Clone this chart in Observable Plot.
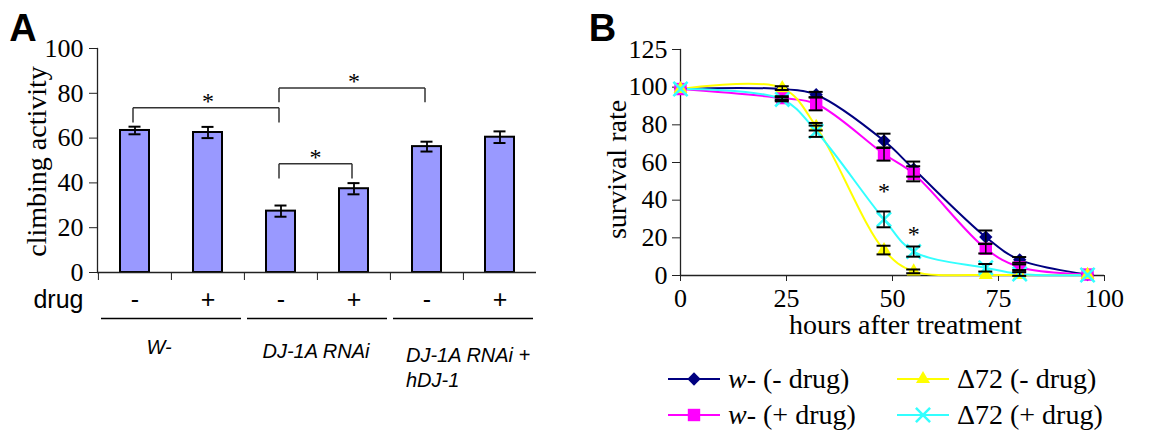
<!DOCTYPE html>
<html><head><meta charset="utf-8">
<script src="https://cdn.jsdelivr.net/npm/d3@7"></script>
<script src="https://cdn.jsdelivr.net/npm/@observablehq/plot@0.6"></script>
<style>
body{margin:0;background:#fff;}
#wrap{position:relative;width:1159px;height:448px;overflow:hidden;background:#fff;}
#panelA{position:absolute;left:0;top:0;}
#panelB{position:absolute;left:580px;top:0;}
.leg{position:absolute;display:flex;align-items:center;height:32px;font-family:"Liberation Serif",serif;font-size:28px;color:#000;white-space:nowrap;}
.leg svg{display:block;margin-right:8px;}
</style></head>
<body><div id="wrap"><div id="panelA"></div><div id="panelB"></div><div id="legend"></div></div>
<script>
// ---------- Panel A data ----------
const barKeys = ["W- -", "W- +", "RNAi -", "RNAi +", "rescue -", "rescue +"];
const barDrug = ["-", "+", "-", "+", "-", "+"];
const climbing = [63.4, 62.5, 27.4, 37.4, 56.2, 60.4];
const climbingErr = [1.7, 2.5, 2.5, 2.5, 2.2, 2.6];
const yTicksA = [0, 20, 40, 60, 80, 100];
const groupLabels = ["W-", "DJ-1A RNAi", "DJ-1A RNAi +\nhDJ-1"];
const groupFirst = ["W- -", "RNAi -", "rescue -"];
const groupLast = ["W- +", "RNAi +", "rescue +"];
const bracketFrom = ["W- -", "RNAi -", "RNAi -"];
const bracketTo = ["RNAi -", "rescue -", "RNAi +"];
const bracketTop = [73.5, 82.4, 48.5];
const bracketFoot = [67, 76, 42];

// ---------- Panel B data ----------
const hoursB = [0, 24, 32, 48, 55, 72, 80, 96];
const seriesNames = ["w- (- drug)", "w- (+ drug)", "Δ72 (- drug)", "Δ72 (+ drug)"];
const wMinus = [99.2, 99, 96, 71.5, 56.5, 20.4, 8.3, 0.5];
const wPlus = [99, 94.2, 91.2, 64.5, 54, 14.2, 4.4, 0.5];
const d72Minus = [99, 99.5, 79, 13.5, 2.2, 0.3, 0.3, 0.3];
const d72Plus = [99, 93.5, 76.6, 29.8, 12.7, 4.1, 0.8, 0.3];
const wMinusErr = [0, 0, 1.5, 3.8, 4, 3.5, 1.5, 0];
const wPlusErr = [0, 1, 3.5, 3.5, 4, 2.5, 1.5, 0];
const d72MinusErr = [0, 1, 2, 2.3, 1, 0, 0, 0];
const d72PlusErr = [0, 1, 3, 4.2, 2.7, 2, 1, 0];
const yTicksB = [0, 20, 40, 60, 80, 100, 120];
const yTickLabelsB = ["0", "20", "40", "60", "80", "100", "125"];
const xTicksB = [0, 25, 50, 75, 100];
const starHours = [48, 55];
const starRate = [44.5, 22];

// ---------- styles ----------
const seriesColors = ["#000080", "#ff00ff", "#ffff00", "#33ffff"];
const seriesSymbols = ["diamond2", "square", "triangle", "times"];
const seriesR = [6, 7, 5.2, 6.5];
const seriesFilled = [true, true, true, false];
const serif = "Liberation Serif, Times New Roman, serif";
const sans = "Liberation Sans, Arial, sans-serif";

// ---------- Panel A ----------
const rowsA = barKeys.map((k, i) => ({key: k, drug: barDrug[i], value: climbing[i], err: climbingErr[i]}));
const groupsA = groupLabels.map((g, i) => ({label: g, first: groupFirst[i], last: groupLast[i]}));
const brackets = bracketFrom.map((f, i) => ({from: f, to: bracketTo[i], top: bracketTop[i], foot: bracketFoot[i]}));
const legs = brackets.flatMap(b => [{x: b.from, top: b.top, foot: b.foot}, {x: b.to, top: b.top, foot: b.foot}]);

const WA = 580, mlA = 97, mrA = 44;
const bwA = (WA - mlA - mrA) / barKeys.length;
const mid = {textAnchor: "middle", lineAnchor: "middle"};

const chartA = Plot.plot({
  width: WA, height: 448,
  marginLeft: mlA, marginRight: mrA, marginTop: 48, marginBottom: 176,
  style: {fontFamily: serif, fontSize: "26px", background: "transparent", color: "#000"},
  x: {type: "band", domain: barKeys, padding: 0, axis: null},
  y: {domain: [0, 100], axis: null},
  marks: [
    Plot.barY(rowsA, {x: "key", y: "value", fill: "#9999ff", stroke: "#000", strokeWidth: 2, insetLeft: 22, insetRight: 22}),
    Plot.ruleX(rowsA, {x: "key", y1: d => d.value - d.err, y2: d => d.value + d.err, stroke: "#000", strokeWidth: 1.8}),
    Plot.tickY(rowsA, {x: "key", y: d => d.value + d.err, insetLeft: 30.5, insetRight: 30.5, stroke: "#000", strokeWidth: 2}),
    Plot.tickY(rowsA, {x: "key", y: d => d.value - d.err, insetLeft: 30.5, insetRight: 30.5, stroke: "#000", strokeWidth: 2}),
    // brackets
    Plot.link(brackets, {x1: "from", x2: "to", y1: "top", y2: "top", stroke: "#333", strokeWidth: 1.5, dx: -2}),
    Plot.link(legs, {x1: "x", x2: "x", y1: "top", y2: "foot", stroke: "#333", strokeWidth: 1.5, dx: -2}),
    Plot.text(["W- +", "RNAi +"], {x: d => d, y: (d, i) => bracketTop[i], text: () => "*", dy: -7, fontSize: 24}),
    Plot.text(["RNAi -"], {x: d => d, y: () => bracketTop[2], text: () => "*", dx: bwA / 2 - 2, dy: -7, fontSize: 24}),
    // axes
    Plot.axisY({ticks: yTicksA, tickSize: 8, tickPadding: 6, fontSize: 26, label: null, stroke: "#222"}),
    Plot.axisX({tickSize: 8, tickFormat: () => "", dx: -bwA / 2, label: null, stroke: "#222"}),
    Plot.ruleY([0], {stroke: "#222", strokeWidth: 1.3}),
    Plot.frame({anchor: "left", stroke: "#222", strokeWidth: 1.3}),
    Plot.text(["climbing activity"], {frameAnchor: "left", ...mid, rotate: -90, dx: -60, dy: 1, fontSize: 28}),
    Plot.text(["A"], {frameAnchor: "top-left", ...mid, dx: -74.5, dy: -20, fontSize: 38, fontWeight: "bold", fontFamily: sans}),
    // drug row
    Plot.text(["drug"], {frameAnchor: "bottom-left", textAnchor: "end", lineAnchor: "middle", dx: -14, dy: 27, fontSize: 25, fontFamily: sans}),
    Plot.text(rowsA, {x: "key", y: () => 0, text: "drug", dy: 27, fontSize: 25, fontFamily: sans}),
    Plot.ruleY(groupsA, {y: () => 0, x1: "first", x2: "last", dy: 46, insetLeft: 3, insetRight: 3, stroke: "#000", strokeWidth: 1.5}),
    Plot.text([groupsA[0]], {x: "first", y: () => 0, text: "label", dx: 24, dy: 75, fontSize: 20, fontStyle: "italic", fontFamily: sans}),
    Plot.text([groupsA[1]], {x: "first", y: () => 0, text: "label", dx: 35, dy: 79, fontSize: 20, fontStyle: "italic", fontFamily: sans}),
    Plot.text([groupsA[2]], {x: "first", y: () => 0, text: "label", dx: -21, dy: 93.5, textAnchor: "start", lineHeight: 1.25, fontSize: 20, fontStyle: "italic", fontFamily: sans})
  ]
});
document.getElementById("panelA").appendChild(chartA);

// ---------- Panel B ----------
const seriesVals = [wMinus, wPlus, d72Minus, d72Plus];
const seriesErrs = [wMinusErr, wPlusErr, d72MinusErr, d72PlusErr];
const rowsB = seriesNames.flatMap((s, si) => hoursB.map((h, j) => ({series: s, si, hours: h, rate: seriesVals[si][j], err: seriesErrs[si][j]})));
const errRows = rowsB.filter(d => d.err > 0);

const markDots = seriesNames.map((s, si) => Plot.dot(rowsB.filter(d => d.si === si), {
  x: "hours", y: "rate", symbol: () => seriesSymbols[si], r: seriesR[si],
  fill: seriesFilled[si] ? seriesColors[si] : "none",
  stroke: seriesFilled[si] ? "none" : seriesColors[si], strokeWidth: 2.5
}));
const markLines = seriesNames.map((s, si) => Plot.line(rowsB.filter(d => d.si === si), {
  x: "hours", y: "rate", stroke: seriesColors[si], strokeWidth: 2, curve: "catmull-rom"
}));

const chartB = Plot.plot({
  width: 579, height: 448,
  marginLeft: 100, marginRight: 55, marginTop: 49, marginBottom: 173,
  style: {fontFamily: serif, fontSize: "26px", background: "transparent", color: "#000"},
  x: {domain: [0, 100], axis: null},
  y: {domain: [0, 120], axis: null},
  marks: [
    Plot.axisY({ticks: yTicksB, tickFormat: (d) => yTickLabelsB[yTicksB.indexOf(d)], tickSize: 8, tickPadding: 5, fontSize: 26, label: null, stroke: "#222"}),
    Plot.axisX({ticks: xTicksB, tickSize: 6, tickPadding: 7, fontSize: 26, label: null, stroke: "#222"}),
    Plot.ruleY([0], {stroke: "#222", strokeWidth: 1.3}),
    Plot.frame({anchor: "left", stroke: "#222", strokeWidth: 1.3}),
    ...markLines,
    ...markDots,
    Plot.ruleX(errRows, {x: "hours", y1: d => d.rate - d.err, y2: d => d.rate + d.err, stroke: "#000", strokeWidth: 1.5}),
    Plot.ruleY(errRows, {y: d => d.rate + d.err, x1: "hours", x2: "hours", insetLeft: -7, insetRight: -7, stroke: "#000", strokeWidth: 2}),
    Plot.ruleY(errRows, {y: d => d.rate - d.err, x1: "hours", x2: "hours", insetLeft: -7, insetRight: -7, stroke: "#000", strokeWidth: 2}),
    Plot.text(starHours, {x: d => d, y: (d, i) => starRate[i], text: () => "*", fontSize: 24}),
    Plot.text(["survival rate"], {frameAnchor: "left", ...mid, rotate: -90, dx: -63, dy: 7, fontSize: 28}),
    Plot.text(["hours after treatment"], {frameAnchor: "bottom", ...mid, dx: 13, dy: 50, fontSize: 28}),
    Plot.text(["B"], {frameAnchor: "top-left", ...mid, dx: -78, dy: -21, fontSize: 38, fontWeight: "bold", fontFamily: sans})
  ]
});
document.getElementById("panelB").appendChild(chartB);

// ---------- Legend (below panel B) ----------
const legendLeft = [668, 897];
const legendTop = [379, 415];
const legend = document.getElementById("legend");
seriesNames.forEach((name, si) => {
  const col = Math.floor(si / 2), row = si % 2;
  const div = document.createElement("div");
  div.className = "leg";
  div.style.left = legendLeft[col] + "px";
  div.style.top = (legendTop[row] - 16) + "px";
  const svg = d3.create("svg").attr("width", 52).attr("height", 32);
  svg.append("line").attr("x1", 0).attr("x2", 52).attr("y1", 16).attr("y2", 16)
    .attr("stroke", seriesColors[si]).attr("stroke-width", 2);
  const symMap = {diamond2: d3.symbolDiamond2, square: d3.symbolSquare, triangle: d3.symbolTriangle, times: d3.symbolTimes};
  svg.append("path").attr("transform", "translate(26,16)")
    .attr("d", d3.symbol(symMap[seriesSymbols[si]], Math.PI * seriesR[si] * seriesR[si])())
    .attr("fill", seriesFilled[si] ? seriesColors[si] : "none")
    .attr("stroke", seriesFilled[si] ? "none" : seriesColors[si]).attr("stroke-width", 2.5);
  div.appendChild(svg.node());
  const span = document.createElement("span");
  if (name.startsWith("w-")) {
    const it = document.createElement("i"); it.textContent = "w";
    span.appendChild(it);
    span.appendChild(document.createTextNode(name.slice(1)));
  } else {
    span.textContent = name;
  }
  div.appendChild(span);
  legend.appendChild(div);
});
</script>
</body></html>
